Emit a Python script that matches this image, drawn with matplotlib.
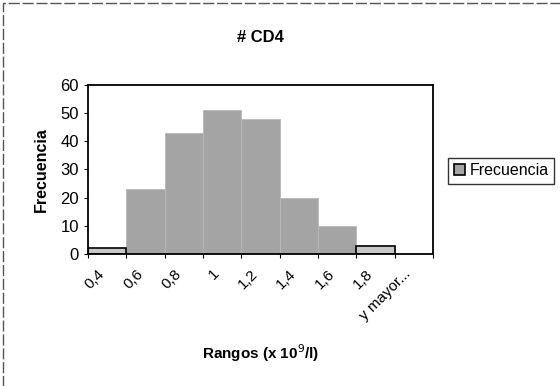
import numpy as np
import matplotlib
matplotlib.use("Agg")
from matplotlib import pyplot as plt
from matplotlib.patches import Rectangle
from matplotlib.transforms import ScaledTranslation

plt.rcParams['font.family'] = ['Liberation Sans', 'DejaVu Sans']

rangos     = ['0,4', '0,6', '0,8', '1', '1,2', '1,4', '1,6', '1,8', 'y mayor...']
frecuencia = [2, 23, 43, 51, 48, 20, 10, 3, 0]

fig = plt.figure(figsize=(5.6, 3.86), dpi=100)
ax = fig.add_axes([0.157, 0.342, 0.616, 0.438])

x = np.arange(len(rangos))
ax.bar(x, frecuencia, width=1.0, color='#a4a4a4', edgecolor='#b8b8b8', linewidth=0.6)
# the short bars look outlined in the histogram
for i in (0, 7):
    ax.bar(x[i], frecuencia[i], width=1.0, color='#c8c8c8', edgecolor='black', linewidth=1.2)

ax.set_xlim(-0.5, len(rangos) - 0.5)
ax.set_ylim(0, 60)
ax.set_yticks(range(0, 61, 10))

# labels at bin centres, tick marks on bin edges
ax.set_xticks(x)
ax.set_xticklabels(rangos, rotation=45, ha='right', rotation_mode='anchor')
ax.tick_params(axis='x', which='major', length=0, pad=9, labelsize=11)
shift = ScaledTranslation(-7 / 72, 0, fig.dpi_scale_trans)
for lbl in ax.get_xticklabels():
    lbl.set_transform(lbl.get_transform() + shift)
ax.set_xticks(np.arange(len(rangos) + 1) - 0.5, minor=True)
ax.tick_params(axis='x', which='minor', length=3, direction='out', width=0.8)
ax.tick_params(axis='y', length=3, direction='out', width=0.8, labelsize=12)

for s in ax.spines.values():
    s.set_linewidth(1.3)
    s.set_color('black')

ax.set_title('# CD4', fontsize=12, fontweight='bold', pad=31)
ax.set_ylabel('Frecuencia', fontsize=11.5, fontweight='bold', labelpad=8)
ax.set_xlabel('Rangos (x 10$^9$/l)', fontsize=11, fontweight='bold', labelpad=14)

fig.legend(['Frecuencia'], loc='center left', bbox_to_anchor=(0.8, 0.558),
           fontsize=11.5, frameon=True, fancybox=False, edgecolor='black',
           handlelength=0.7, handleheight=0.7, handletextpad=0.3,
           borderpad=0.35, borderaxespad=0)
fig.legends[0].legend_handles[0].set_edgecolor('black')
fig.legends[0].legend_handles[0].set_linewidth(1.2)

# chart border
fig.patches.append(Rectangle((0.006, -0.01), 1.2, 1.002, transform=fig.transFigure,
                             fill=False, edgecolor='#555555', linewidth=1.0, linestyle=(0, (8, 2))))

fig.savefig('out.png', dpi=100)
